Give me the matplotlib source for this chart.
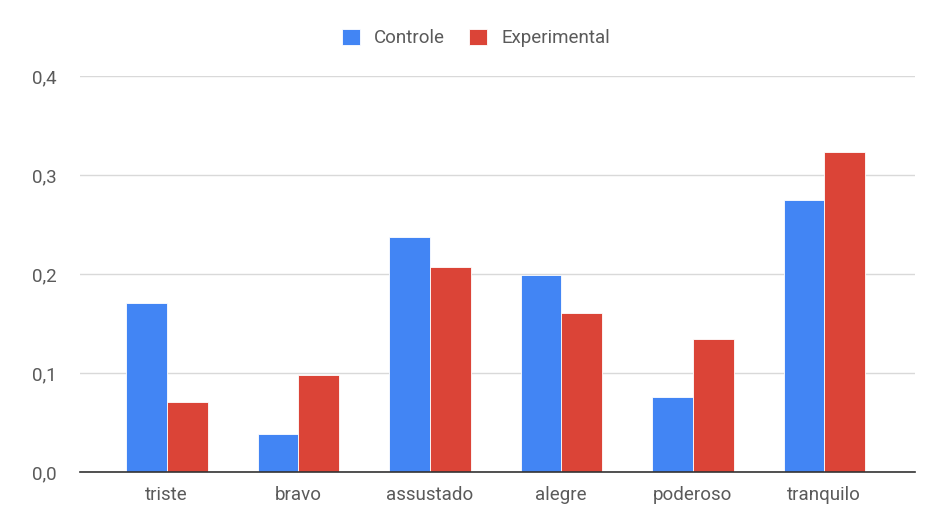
import numpy as np
import matplotlib
matplotlib.use("Agg")
import matplotlib.pyplot as plt
from matplotlib.ticker import FixedLocator, FuncFormatter

categories = ["triste", "bravo", "assustado", "alegre", "poderoso", "tranquilo"]
controle = [0.171, 0.038, 0.237, 0.199, 0.076, 0.275]
experimental = [0.071, 0.098, 0.207, 0.161, 0.134, 0.323]
series_names = ["Controle", "Experimental"]

BLUE = "#4285F4"
RED = "#DB4437"

plt.rcParams["font.family"] = ["Roboto", "DejaVu Sans"]

fig = plt.figure(figsize=(9.3, 5.25), dpi=100)
ax = fig.add_axes([80 / 930, 53 / 525, 835 / 930, 396 / 525])

x = np.arange(len(categories))
w = 0.31
ax.bar(x - w / 2, controle, width=w, color=BLUE, edgecolor="white", linewidth=0.6,
       label=series_names[0], zorder=3)
ax.bar(x + w / 2, experimental, width=w, color=RED, edgecolor="white", linewidth=0.6,
       label=series_names[1], zorder=3)

ax.set_xlim(-0.66, 5.69)
ax.set_ylim(0, 0.4)
ax.yaxis.set_major_locator(FixedLocator([0.0, 0.1, 0.2, 0.3, 0.4]))
ax.yaxis.set_major_formatter(FuncFormatter(lambda v, p: f"{v:.1f}".replace(".", ",")))
ax.set_xticks(x)
ax.set_xticklabels(categories)

ax.grid(axis="y", color="#d9d9d9", linewidth=1.0, zorder=0)
for s in ["top", "right", "left"]:
    ax.spines[s].set_visible(False)
ax.spines["bottom"].set_color("#333333")
ax.spines["bottom"].set_linewidth(1.2)
ax.spines["bottom"].set_zorder(4)

ax.tick_params(axis="both", length=0, labelsize=13.5, labelcolor="#5a5a5a")
ax.tick_params(axis="x", pad=10)
ax.tick_params(axis="y", pad=17)

# legend centred over the plot area, like the Sheets chart
fig.legend(loc="center", bbox_to_anchor=(0.5 + 11 / 930, 1 - 38 / 525), ncol=2, frameon=False,
           fontsize=13.5, handlelength=0.95, handleheight=1.0, handletextpad=0.75,
           columnspacing=1.3, labelcolor="#5a5a5a")

fig.savefig("out.png", dpi=100)
